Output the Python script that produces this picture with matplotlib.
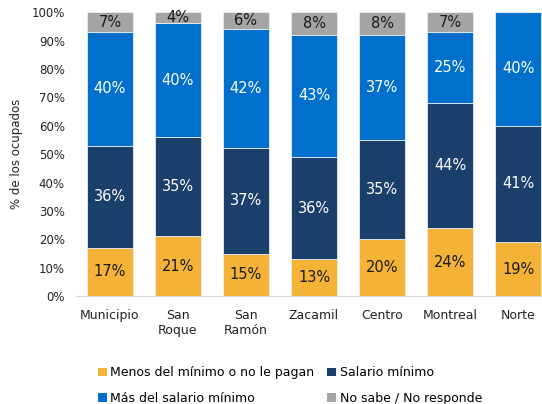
import matplotlib
matplotlib.use("Agg")
import matplotlib.pyplot as plt
import numpy as np
from matplotlib.patches import Patch

categories = ["Municipio", "San\nRoque", "San\nRamón", "Zacamil", "Centro", "Montreal", "Norte"]
series_names = ["Menos del mínimo o no le pagan", "Salario mínimo",
                "Más del salario mínimo", "No sabe / No responde"]
menos = [17, 21, 15, 13, 20, 24, 19]
salario = [36, 35, 37, 36, 35, 44, 41]
mas = [40, 40, 42, 43, 37, 25, 40]
nosabe = [7, 4, 6, 8, 8, 7, 0]
yticks = [0, 10, 20, 30, 40, 50, 60, 70, 80, 90, 100]

colors = ["#F4B336", "#1B3F6B", "#0070CC", "#A5A5A5"]
text_colors = ["#1a1a1a", "white", "white", "#1a1a1a"]

plt.rcParams['font.family'] = ['DejaVu Sans']
fig = plt.figure(figsize=(5.42, 4.04), dpi=100)
ax = fig.add_axes([0.140, 0.267, 0.860, 0.703])

x = np.arange(len(categories))
bottom = np.zeros(len(categories))
for vals, c, tc in zip([menos, salario, mas, nosabe], colors, text_colors):
    vals = np.array(vals, dtype=float)
    ax.bar(x, vals, bottom=bottom, width=0.68, color=c, edgecolor="#E8EEF5", linewidth=0.6)
    for xi, b, v in zip(x, bottom, vals):
        if v > 0:
            ax.text(xi, b + v / 2, f"{int(v)}%", ha="center", va="center",
                    color=tc, fontsize=10.5)
    bottom += vals

ax.set_xlim(-0.5, 6.35)
ax.set_ylim(0, 100)
ax.set_yticks(yticks)
ax.set_yticklabels([f"{t}%" for t in yticks], fontsize=8.5, color="#222222")
ax.set_xticks(x)
ax.set_xticklabels(categories, fontsize=9, color="#222222", linespacing=1.2)
ax.tick_params(axis="x", length=0, pad=9)
ax.tick_params(axis="y", length=0, pad=8)
for s in ["top", "right", "left"]:
    ax.spines[s].set_visible(False)
ax.spines["bottom"].set_color("#D9D9D9")
ax.set_ylabel("% de los ocupados", fontsize=8.5, color="#222222", labelpad=6)

handles = [Patch(facecolor=c, edgecolor="none") for c in colors]
order = [0, 2, 1, 3]
fig.legend([handles[i] for i in order], [series_names[i] for i in order],
           loc="lower left", bbox_to_anchor=(0.16, -0.03),
           ncol=2, frameon=False, fontsize=9, handlelength=0.7, handleheight=0.7,
           handletextpad=0.3, columnspacing=1.0, labelspacing=1.0)

fig.savefig("out.png", dpi=100)
